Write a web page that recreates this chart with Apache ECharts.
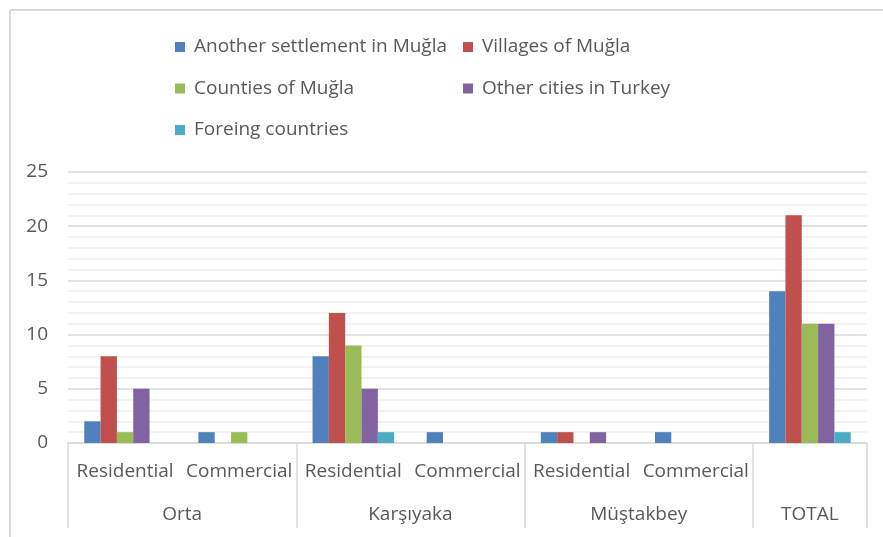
<!DOCTYPE html>
<html>
<head>
<meta charset="utf-8">
<script src="https://cdn.jsdelivr.net/npm/echarts@6/dist/echarts.min.js"></script>
<style>
  html, body { margin: 0; padding: 0; background: #fff; }
  #chart { width: 883px; height: 537px; }
</style>
</head>
<body>
<div id="chart"></div>
<script>
// Sub-categories along the axis (lower row labels) and their district groups
const subCategories = ['Residential', 'Commercial', 'Residential', 'Commercial', 'Residential', 'Commercial', ''];
const groupNames = ['Orta', 'Karşıyaka', 'Müştakbey', 'TOTAL'];
const groupSpans = [2, 2, 2, 1];

const seriesNames = [
  'Another settlement in Muğla',
  'Villages of Muğla',
  'Counties of Muğla',
  'Other cities in Turkey',
  'Foreing countries'
];
const anotherSettlement = [2, 1, 8, 1, 1, 1, 14];
const villages          = [8, 0, 12, 0, 1, 0, 21];
const counties          = [1, 1, 9, 0, 0, 0, 11];
const otherCities       = [5, 0, 5, 0, 1, 0, 11];
const foreign           = [0, 0, 1, 0, 0, 0, 1];

const yTicks = [0, 5, 10, 15, 20, 25];

const colors = ['#4F81BD', '#C0504D', '#9BBB59', '#8064A2', '#4BACC6'];
const values = [anotherSettlement, villages, counties, otherCities, foreign];

// Group boundaries and centres on a 0..7 value scale laid over the category axis
const boundaries = [0];
const centres = [];
groupSpans.forEach((s, i) => {
  const start = boundaries[i];
  boundaries.push(start + s);
  centres.push(start + s / 2);
});

const FONT = '"Open Sans", Lato, sans-serif';
const FS = 19;
const TEXT = '#595959';

const chart = echarts.init(document.getElementById('chart'), null, { renderer: 'canvas' });

const legendText = { color: TEXT, fontSize: FS, fontFamily: FONT, lineHeight: 22, padding: [0, 0, 0, 4] };

chart.setOption({
  animation: false,
  color: colors,
  textStyle: { fontFamily: FONT },
  graphic: [
    { type: 'line', shape: { x1: 10, y1: 10, x2: 883, y2: 10 }, style: { stroke: '#d9d9d9', lineWidth: 2 } },
    { type: 'line', shape: { x1: 10, y1: 10, x2: 10, y2: 537 }, style: { stroke: '#d9d9d9', lineWidth: 2 } }
  ],
  legend: [
    {
      orient: 'vertical', left: 170, top: 31,
      data: [seriesNames[0], seriesNames[2], seriesNames[4]],
      icon: 'rect', itemWidth: 10, itemHeight: 10, itemGap: 19.5,
      textStyle: legendText
    },
    {
      orient: 'vertical', left: 458, top: 31,
      data: [seriesNames[1], seriesNames[3]],
      icon: 'rect', itemWidth: 10, itemHeight: 10, itemGap: 19.5,
      textStyle: legendText
    }
  ],
  grid: { left: 68, right: 16, top: 172, bottom: 94, containLabel: false },
  xAxis: [
    {
      type: 'category',
      data: subCategories,
      position: 'bottom',
      axisLine: { show: false },
      axisTick: { show: false },
      axisLabel: { interval: 0, margin: 19, color: TEXT, fontSize: FS, fontFamily: FONT }
    },
    {
      type: 'value',
      min: 0, max: 7,
      position: 'bottom',
      splitLine: { show: false },
      axisLine: { show: true, lineStyle: { color: '#d9d9d9', width: 1.5 } },
      axisTick: {
        show: true, customValues: boundaries, length: 85,
        lineStyle: { color: '#d9d9d9', width: 1.5 }
      },
      axisLabel: {
        customValues: centres, margin: 62, color: TEXT, fontSize: FS, fontFamily: FONT,
        formatter: v => groupNames[centres.indexOf(v)] || ''
      }
    }
  ],
  yAxis: {
    type: 'value',
    min: yTicks[0], max: yTicks[yTicks.length - 1], interval: 5,
    axisLine: { show: false },
    axisTick: { show: false },
    axisLabel: { margin: 20, color: TEXT, fontSize: FS, fontFamily: FONT },
    splitLine: { show: true, lineStyle: { color: '#d9d9d9', width: 1.5 } },
    minorTick: { show: false, splitNumber: 5 },
    minorSplitLine: { show: true, lineStyle: { color: '#f0f0f0', width: 1.5 } }
  },
  series: seriesNames.map((name, i) => ({
    name,
    type: 'bar',
    xAxisIndex: 0,
    data: values[i],
    barGap: '0%',
    barCategoryGap: '28.5%',
    itemStyle: { color: colors[i] }
  }))
});
</script>
</body>
</html>
